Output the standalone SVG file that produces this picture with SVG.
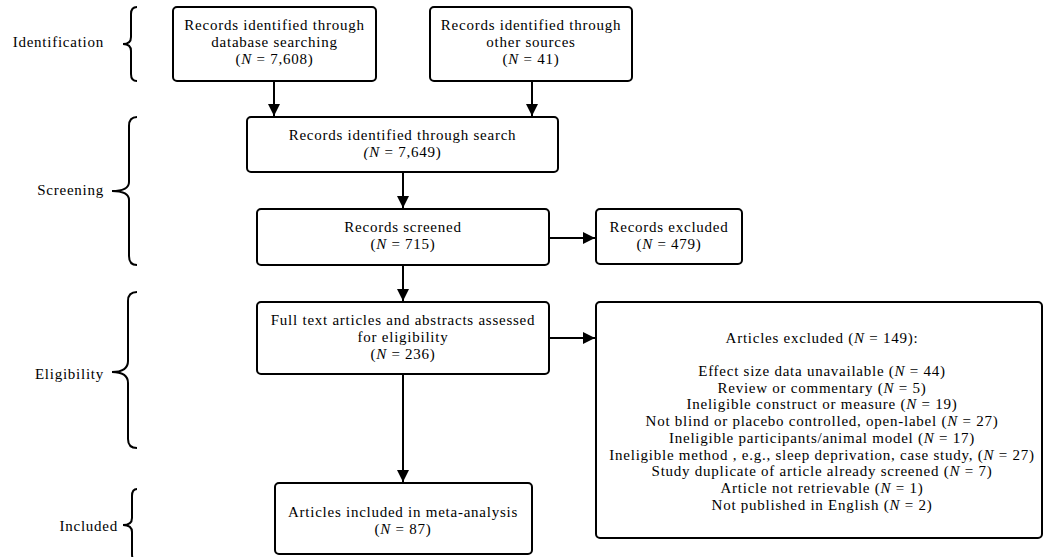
<svg xmlns="http://www.w3.org/2000/svg" width="1045" height="557" viewBox="0 0 1045 557">
<style>
.box{fill:#fff;stroke:#000;stroke-width:2}
.t{font-family:"Liberation Serif","Times New Roman",serif;font-size:15px;letter-spacing:0.75px;fill:#000;text-anchor:middle}
.lbl{font-family:"Liberation Serif","Times New Roman",serif;font-size:15px;letter-spacing:0.75px;fill:#000;text-anchor:end}
.i{font-style:italic}
.edge{stroke:#000;stroke-width:2;fill:none;marker-end:url(#ah)}
.brace{stroke:#000;stroke-width:2;fill:none}
</style>
<defs>
<marker id="ah" markerUnits="userSpaceOnUse" markerWidth="12" markerHeight="12" refX="12" refY="6" orient="auto">
<path d="M0,0 L12,6 L0,12 z" fill="#000"/>
</marker>
</defs>
<rect width="1045" height="557" fill="#fff"/>
<g id="stages">
<text class="lbl" x="104" y="47">Identification</text>
<path class="brace" d="M137,7 Q131,7 131,14 L131,37 Q131,44 123,44 Q131,44 131,51 L131,74 Q131,81 137,81"/>
<text class="lbl" x="104" y="195">Screening</text>
<path class="brace" d="M137,117 Q129,117 129,126 L129,182 Q129,191 112,191 Q129,191 129,200 L129,256 Q129,265 137,265"/>
<text class="lbl" x="104" y="379">Eligibility</text>
<path class="brace" d="M137,292 Q128,292 128,301 L128,361 Q128,372 112,372 Q128,372 128,383 L128,439 Q128,448 137,448"/>
<text class="lbl" x="118" y="531">Included</text>
<path class="brace" d="M137,489 Q132,489 132,496 L132,518 Q132,525 123,525 Q132,525 132,532 L132,554 Q132,561 137,561"/>
</g>
<g id="n1">
<rect class="box" x="173" y="7" width="203" height="74" rx="4"/>
<text class="t" x="274.5" y="30">Records identified through</text>
<text class="t" x="274.5" y="47">database searching</text>
<text class="t" x="274.5" y="64">(<tspan class="i">N</tspan> = 7,608)</text>
</g>
<g id="n2">
<rect class="box" x="430" y="7" width="202" height="74" rx="4"/>
<text class="t" x="531" y="30">Records identified through</text>
<text class="t" x="531" y="47">other sources</text>
<text class="t" x="531" y="64">(<tspan class="i">N</tspan> = 41)</text>
</g>
<g id="n3">
<rect class="box" x="247" y="117" width="311" height="55" rx="4"/>
<text class="t" x="402.5" y="140">Records identified through search</text>
<text class="t" x="402.5" y="157"><tspan class="i">(N</tspan> = 7,649)</text>
</g>
<g id="n4">
<rect class="box" x="257" y="209" width="292" height="56" rx="4"/>
<text class="t" x="403" y="232">Records screened</text>
<text class="t" x="403" y="249">(<tspan class="i">N</tspan> = 715)</text>
</g>
<g id="n5">
<rect class="box" x="596" y="209" width="146" height="55" rx="4"/>
<text class="t" x="669" y="232">Records excluded</text>
<text class="t" x="669" y="249">(<tspan class="i">N</tspan> = 479)</text>
</g>
<g id="n6">
<rect class="box" x="257" y="302" width="292" height="72" rx="4"/>
<text class="t" x="403" y="325">Full text articles and abstracts assessed</text>
<text class="t" x="403" y="342">for eligibility</text>
<text class="t" x="403" y="359">(<tspan class="i">N</tspan> = 236)</text>
</g>
<g id="n7">
<rect class="box" x="596" y="302" width="446" height="236" rx="4"/>
<text class="t" x="822" y="343">Articles excluded (<tspan class="i">N</tspan> = 149):</text>
<text class="t" x="822" y="376">Effect size data unavailable (<tspan class="i">N</tspan> = 44)</text>
<text class="t" x="822" y="392.7">Review or commentary (<tspan class="i">N</tspan> = 5)</text>
<text class="t" x="822" y="409.4">Ineligible construct or measure (<tspan class="i">N</tspan> = 19)</text>
<text class="t" x="822" y="426.1">Not blind or placebo controlled, open-label (<tspan class="i">N</tspan> = 27)</text>
<text class="t" x="822" y="442.8">Ineligible participants/animal model (<tspan class="i">N</tspan> = 17)</text>
<text class="t" x="822" y="459.5">Ineligible method , e.g., sleep deprivation, case study, (<tspan class="i">N</tspan> = 27)</text>
<text class="t" x="822" y="476.2">Study duplicate of article already screened (<tspan class="i">N</tspan> = 7)</text>
<text class="t" x="822" y="492.9">Article not retrievable (<tspan class="i">N</tspan> = 1)</text>
<text class="t" x="822" y="509.6">Not published in English (<tspan class="i">N</tspan> = 2)</text>
</g>
<g id="n8">
<rect class="box" x="275" y="483" width="257" height="71" rx="4"/>
<text class="t" x="403" y="517">Articles included in meta-analysis</text>
<text class="t" x="403" y="534">(<tspan class="i">N</tspan> = 87)</text>
</g>
<g id="connectors">
<line class="edge" x1="274" y1="81" x2="274" y2="116"/>
<line class="edge" x1="532" y1="81" x2="532" y2="116"/>
<line class="edge" x1="403" y1="172" x2="403" y2="208"/>
<line class="edge" x1="549" y1="238" x2="595" y2="238"/>
<line class="edge" x1="403" y1="265" x2="403" y2="301"/>
<line class="edge" x1="549" y1="338" x2="595" y2="338"/>
<line class="edge" x1="403" y1="374" x2="403" y2="482"/>
</g>
</svg>
